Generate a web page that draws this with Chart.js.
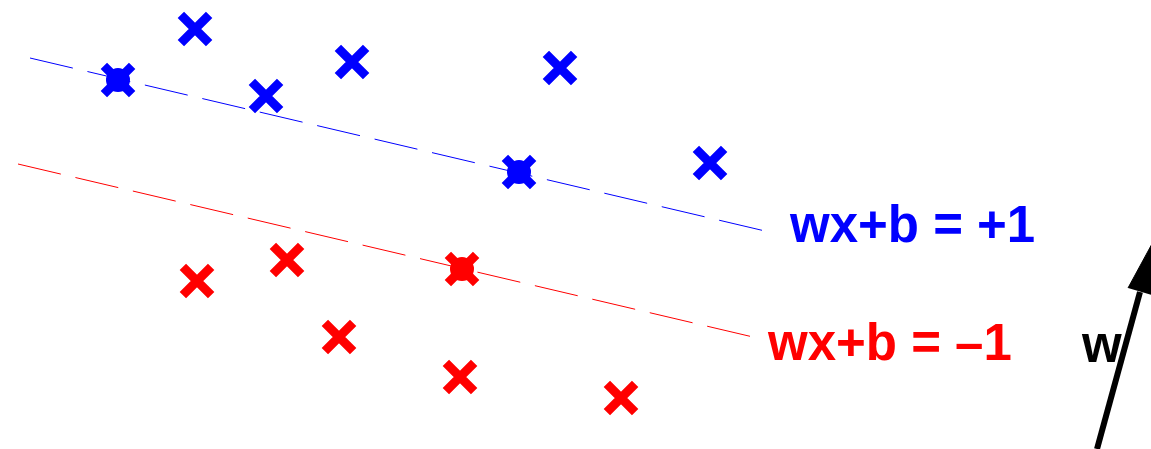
<!DOCTYPE html>
<html>
<head>
<meta charset="utf-8">
<script src="https://cdn.jsdelivr.net/npm/chart.js@4"></script>
<style>
  body { margin: 0; background: #fff; }
  #grafica { display: block; }
</style>
</head>
<body>
<canvas id="grafica" width="1151" height="449"></canvas>
<script>
// Puntos de la clase +1 (azul) y de la clase -1 (rojo)
const azulX = [195, 118, 266, 352, 560, 519, 710];
const azulY = [29, 80, 96, 62, 68, 172, 163];
const rojoX = [197, 287, 462, 339, 460, 621];
const rojoY = [281, 260, 269, 337, 377, 398];

// Vectores de soporte (los que caen sobre los margenes)
const soporteAzulX = [118, 519];
const soporteAzulY = [80, 172];
const soporteRojoX = [462];
const soporteRojoY = [269];

// Margenes wx+b = +1 y wx+b = -1
const margenAzulX = [30, 765];
const margenAzulY = [58, 231];
const margenRojoX = [18, 753];
const margenRojoY = [164, 337];

// Vector w (cuerpo y punta de la flecha)
const flechaX = [1097, 1140];
const flechaY = [449, 292];
const puntaX = [1128, 1153, 1152];
const puntaY = [288, 242, 295];

// Textos
const etiquetas = ['wx+b = +1', 'wx+b = \u20131', 'w'];
const etiquetaX = [790, 768, 1082];
const etiquetaY = [242, 360, 362];
const etiquetaColor = ['#0000ff', '#ff0000', '#000000'];

const azul = '#0000ff';
const rojo = '#ff0000';

function puntos(xs, ys) {
    return xs.map((x, i) => ({ x: x, y: ys[i] }));
}

// Dibuja los textos usando las escalas del grafico
const textos = {
    id: 'textos',
    afterDatasetsDraw(chart) {
        const ctx = chart.ctx;
        const sx = chart.scales.x;
        const sy = chart.scales.y;
        ctx.save();
        ctx.font = 'bold 51px "Liberation Sans", Arial, sans-serif';
        ctx.textAlign = 'left';
        ctx.textBaseline = 'alphabetic';
        etiquetas.forEach((t, i) => {
            ctx.fillStyle = etiquetaColor[i];
            ctx.fillText(t, sx.getPixelForValue(etiquetaX[i]), sy.getPixelForValue(etiquetaY[i]));
        });
        ctx.restore();
    }
};

const ctx = document.getElementById('grafica').getContext('2d');
new Chart(ctx, {
    type: 'scatter',
    data: {
        datasets: [
            {
                data: puntos(margenAzulX, margenAzulY),
                showLine: true,
                borderColor: azul,
                borderWidth: 1,
                borderDash: [44, 15],
                pointRadius: 0,
                order: 5
            },
            {
                data: puntos(margenRojoX, margenRojoY),
                showLine: true,
                borderColor: rojo,
                borderWidth: 1,
                borderDash: [44, 15],
                pointRadius: 0,
                order: 5
            },
            {
                data: puntos(soporteAzulX, soporteAzulY),
                pointStyle: 'circle',
                pointRadius: 12,
                pointBorderWidth: 0,
                backgroundColor: azul,
                borderColor: azul,
                order: 3
            },
            {
                data: puntos(soporteRojoX, soporteRojoY),
                pointStyle: 'circle',
                pointRadius: 12,
                pointBorderWidth: 0,
                backgroundColor: rojo,
                borderColor: rojo,
                order: 3
            },
            {
                data: puntos(azulX, azulY),
                pointStyle: 'crossRot',
                pointRadius: 20,
                pointBorderWidth: 9,
                borderWidth: 9,
                borderColor: azul,
                backgroundColor: azul,
                order: 1
            },
            {
                data: puntos(rojoX, rojoY),
                pointStyle: 'crossRot',
                pointRadius: 20,
                pointBorderWidth: 9,
                borderWidth: 9,
                borderColor: rojo,
                backgroundColor: rojo,
                order: 1
            },
            {
                data: puntos(flechaX, flechaY),
                showLine: true,
                borderColor: '#000',
                borderWidth: 6,
                pointRadius: 0,
                order: 2
            },
            {
                data: puntos(puntaX, puntaY),
                showLine: true,
                fill: 'shape',
                borderColor: '#000',
                backgroundColor: '#000',
                borderWidth: 1,
                pointRadius: 0,
                order: 2
            }
        ]
    },
    options: {
        responsive: false,
        animation: false,
        layout: { padding: 0, autoPadding: false },
        plugins: {
            legend: { display: false },
            tooltip: { enabled: false }
        },
        scales: {
            x: { type: 'linear', min: 0, max: 1151, display: false },
            y: { type: 'linear', min: 0, max: 449, reverse: true, display: false }
        }
    },
    plugins: [textos]
});
</script>
</body>
</html>
